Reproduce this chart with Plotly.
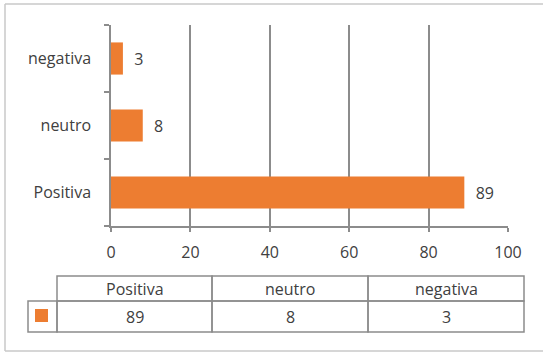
import plotly.graph_objects as go

# Sentiment counts
categories = ["Positiva", "neutro", "negativa"]
values = [89, 8, 3]
x_ticks = [0, 20, 40, 60, 80, 100]

W, H = 543, 352
BAR = "#ED7D31"
GRID = "#8C8C8C"
TXT = "#404040"
FONT = "'Open Sans', Lato, sans-serif"
FS = 16


def fx(x):
    return x / W


def fy(y):
    return 1 - y / H


fig = go.Figure(
    go.Bar(
        y=categories,
        x=values,
        orientation="h",
        width=0.48,
        marker=dict(color=BAR, line=dict(width=0)),
        text=values,
        texttemplate="\u00a0\u00a0%{x}",
        textposition="outside",
        textfont=dict(family=FONT, size=FS, color=TXT),
        cliponaxis=False,
        showlegend=False,
    )
)

fig.update_layout(
    width=W,
    height=H,
    margin=dict(l=0, r=0, t=0, b=0, autoexpand=False),
    showlegend=False,
    paper_bgcolor="white",
    plot_bgcolor="white",
    font=dict(family=FONT, size=FS, color=TXT),
    xaxis=dict(
        domain=[fx(111), fx(508)],
        range=[0, 100],
        tickvals=x_ticks,
        automargin=False,
        showgrid=True,
        gridcolor=GRID,
        gridwidth=1.5,
        zeroline=False,
        showline=True,
        linecolor=GRID,
        linewidth=1.5,
        ticks="outside",
        ticklen=4,
        tickcolor=GRID,
        tickwidth=1.5,
        ticklabelstandoff=7,
        tickfont=dict(family=FONT, size=FS, color=TXT),
        fixedrange=True,
    ),
    yaxis=dict(
        domain=[fy(226), fy(25)],
        type="category",
        categoryorder="array",
        categoryarray=categories,
        range=[-0.5, 2.5],
        automargin=False,
        tickson="boundaries",
        ticks="outside",
        ticklen=5,
        tickcolor=GRID,
        tickwidth=1.5,
        showline=True,
        linecolor=GRID,
        linewidth=1.5,
        showgrid=False,
        ticklabelstandoff=15,
        tickfont=dict(family=FONT, size=FS, color=TXT),
        fixedrange=True,
    ),
)

shapes = []
annotations = []

# chart frame (right side runs past the page edge)
FRAME = dict(color="#C8C8C8", width=1.5)
for (x0, y0, x1, y1) in [(5, 4, W, 4), (5, 4, 5, 351), (5, 351, W, 351)]:
    shapes.append(dict(type="line", xref="paper", yref="paper",
                       x0=fx(x0), x1=fx(x1), y0=fy(y0), y1=fy(y1), line=FRAME))

# data table under the chart
col_edges = [57, 212, 368, 524]
head_top, row_mid, row_bot = 276, 301, 332
TBL = "#8C8C8C"
for i, (cat, val) in enumerate(zip(categories, values)):
    x0, x1 = col_edges[i], col_edges[i + 1]
    for (y0, y1) in [(head_top, row_mid), (row_mid, row_bot)]:
        shapes.append(dict(type="rect", xref="paper", yref="paper",
                           x0=fx(x0), x1=fx(x1), y0=fy(y1), y1=fy(y0),
                           line=dict(color=TBL, width=1.5), fillcolor="rgba(0,0,0,0)"))
    xc = fx((x0 + x1) / 2)
    annotations.append(dict(xref="paper", yref="paper", x=xc, y=fy((head_top + row_mid) / 2),
                            text=cat, showarrow=False, xanchor="center", yanchor="middle",
                            font=dict(family=FONT, size=FS, color=TXT)))
    annotations.append(dict(xref="paper", yref="paper", x=xc, y=fy((row_mid + row_bot) / 2),
                            text=str(val), showarrow=False, xanchor="center", yanchor="middle",
                            font=dict(family=FONT, size=FS, color=TXT)))

# legend key cell
shapes.append(dict(type="rect", xref="paper", yref="paper",
                   x0=fx(28), x1=fx(57), y0=fy(row_bot), y1=fy(row_mid),
                   line=dict(color=TBL, width=1.5), fillcolor="rgba(0,0,0,0)"))
shapes.append(dict(type="rect", xref="paper", yref="paper",
                   x0=fx(35), x1=fx(48), y0=fy(322), y1=fy(309),
                   line=dict(width=0), fillcolor=BAR))

fig.update_layout(shapes=shapes, annotations=annotations)

fig.write_html("out.html")
